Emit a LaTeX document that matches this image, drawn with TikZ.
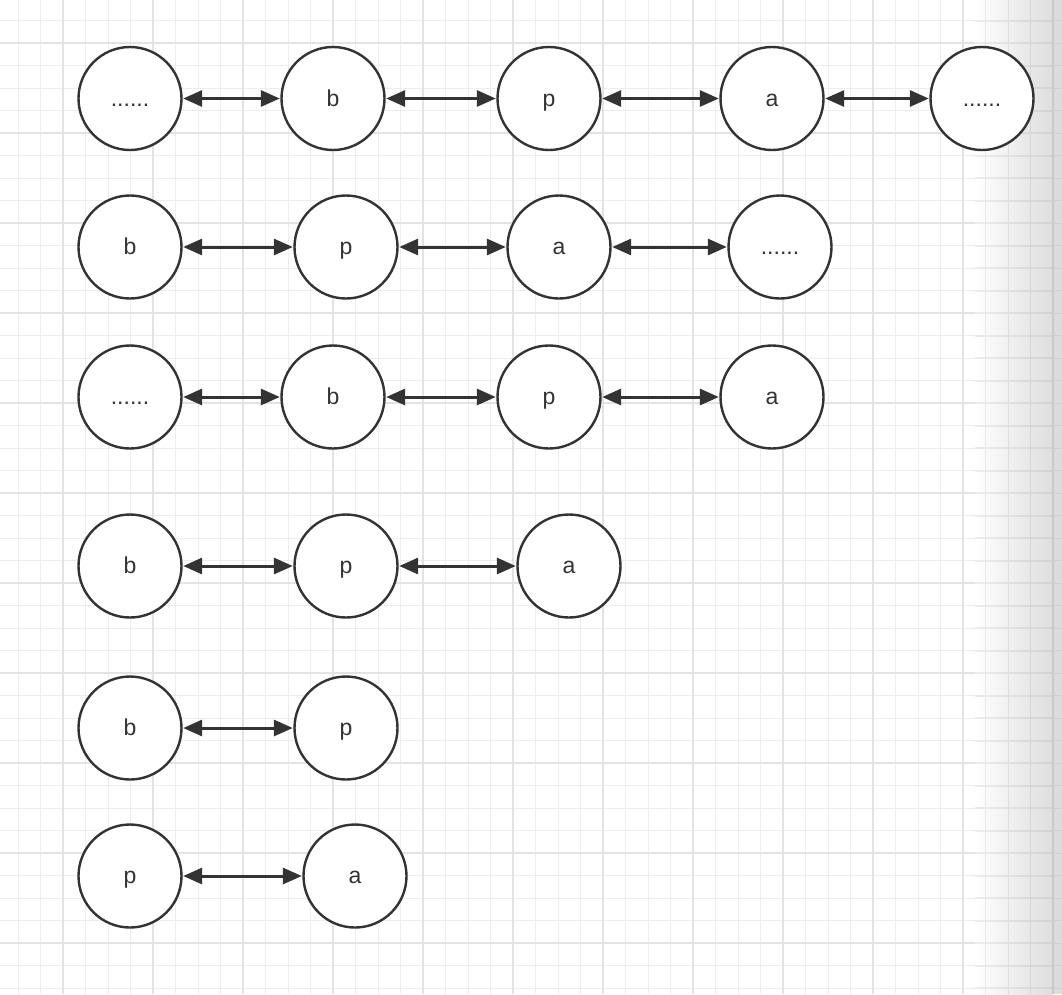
\documentclass[tikz,border=0pt]{standalone}
\usepackage{fontspec}
\setmainfont{Liberation Sans}
\usetikzlibrary{arrows.meta}
\definecolor{ink}{HTML}{333333}
\tikzset{
  ball/.style={circle, draw=ink, line width=2.4pt, fill=white, minimum size=103pt, inner sep=0pt,
    font=\fontsize{23}{26}\selectfont, text=ink, text height=17pt, text depth=2pt},
  link/.style={draw=ink, line width=3pt, {Triangle[length=19pt,width=16pt]}-{Triangle[length=19pt,width=16pt]}, shorten <=0.5pt, shorten >=0.5pt},
  minorline/.style={draw=black!7, line width=1pt},
  majorline/.style={draw=black!11, line width=1.2pt}
}
\begin{document}
\begin{tikzpicture}[x=1pt,y=-1pt]
\useasboundingbox (0,0) rectangle (1062,994);
\fill[white] (0,0) rectangle (1062,994);
% grid (plain part)
\foreach \i in {-2,...,40} {
  \draw[minorline] ({63+\i*22.5},0) -- ({63+\i*22.5},994);
}
\foreach \i in {-1,...,42} {
  \draw[minorline] (0,{43+\i*22.5}) -- (975,{43+\i*22.5});
}
\foreach \i in {0,...,10} {
  \draw[majorline] ({63+\i*90},0) -- ({63+\i*90},994);
}
\foreach \i in {0,...,10} {
  \draw[majorline] (0,{43+\i*90}) -- (975,{43+\i*90});
}
% shaded right edge
\shade[left color=white, right color=black!13] (975,0) rectangle (1052,994);
\fill[black!14] (1052,0) rectangle (1062,994);
\foreach \i in {-1,...,42} {
  \shade[left color=black!7, right color=black!18] (975,{43+\i*22.5-0.5}) rectangle (1052,{43+\i*22.5+0.5});
  \fill[black!19] (1052,{43+\i*22.5-0.5}) rectangle (1062,{43+\i*22.5+0.5});
}
\draw[draw=black!9, line width=1pt] (985.5,0) -- (985.5,994);
\draw[draw=black!13, line width=1pt] (1008,0) -- (1008,994);
\draw[draw=black!17, line width=1pt] (1030.5,0) -- (1030.5,994);
\draw[draw=black!21, line width=1.2pt] (1053,0) -- (1053,994);
% row 1
\node[ball] (r1a) at (130,98.5) {......};
\node[ball] (r1b) at (333,98.5) {b};
\node[ball] (r1c) at (549,98.5) {p};
\node[ball] (r1d) at (772,98.5) {a};
\node[ball] (r1e) at (982,98.5) {......};
\draw[link] (r1a) -- (r1b);
\draw[link] (r1b) -- (r1c);
\draw[link] (r1c) -- (r1d);
\draw[link] (r1d) -- (r1e);
% row 2
\node[ball] (r2a) at (130,247) {b};
\node[ball] (r2b) at (346,247) {p};
\node[ball] (r2c) at (559,247) {a};
\node[ball] (r2d) at (780,247) {......};
\draw[link] (r2a) -- (r2b);
\draw[link] (r2b) -- (r2c);
\draw[link] (r2c) -- (r2d);
% row 3
\node[ball] (r3a) at (130,397) {......};
\node[ball] (r3b) at (333,397) {b};
\node[ball] (r3c) at (549,397) {p};
\node[ball] (r3d) at (772,397) {a};
\draw[link] (r3a) -- (r3b);
\draw[link] (r3b) -- (r3c);
\draw[link] (r3c) -- (r3d);
% row 4
\node[ball] (r4a) at (130,566) {b};
\node[ball] (r4b) at (346,566) {p};
\node[ball] (r4c) at (569,566) {a};
\draw[link] (r4a) -- (r4b);
\draw[link] (r4b) -- (r4c);
% row 5
\node[ball] (r5a) at (130,728) {b};
\node[ball] (r5b) at (346,728) {p};
\draw[link] (r5a) -- (r5b);
% row 6
\node[ball] (r6a) at (130,876) {p};
\node[ball] (r6b) at (355,876) {a};
\draw[link] (r6a) -- (r6b);
\end{tikzpicture}
\end{document}
